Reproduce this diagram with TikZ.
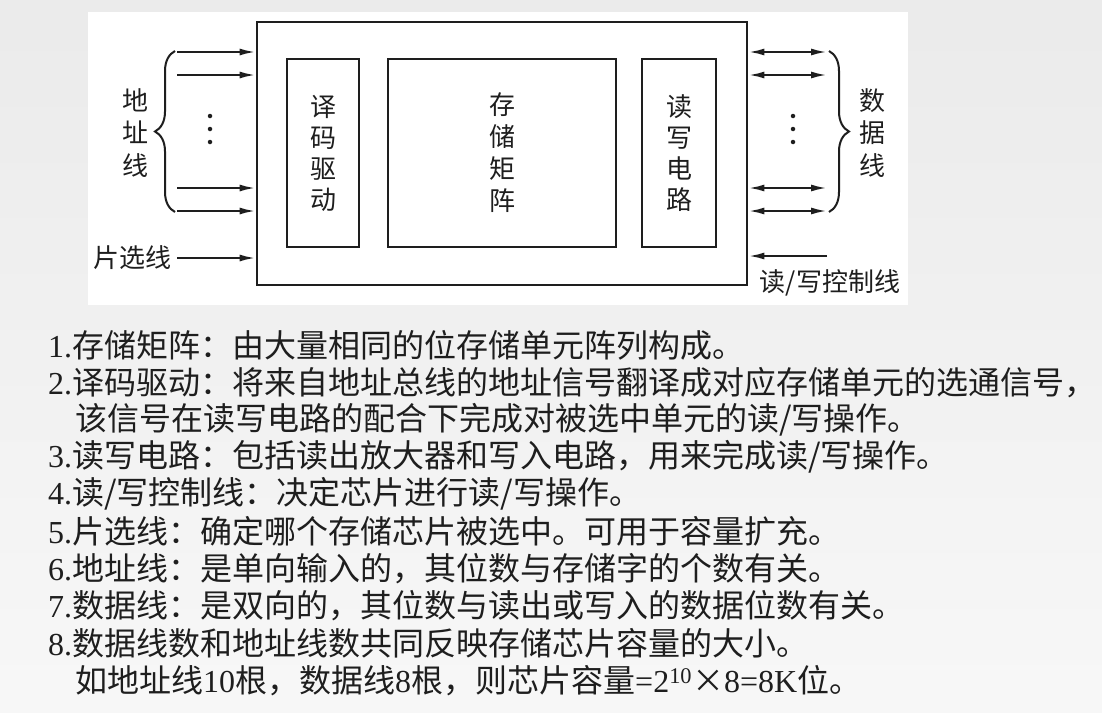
\documentclass[tikz,border=0pt]{standalone}
\usepackage{fontspec}
\setmainfont{Liberation Serif}
\newfontfamily\cjk{Noto Sans CJK SC}
\usetikzlibrary{arrows.meta,decorations.pathreplacing}
\definecolor{ink}{HTML}{1E1E1E}
\begin{document}
\begin{tikzpicture}[x=1pt,y=-1pt,
  boxstyle/.style={draw=ink,line width=2.8pt,inner sep=0pt,align=center,text=ink},
  vlabel/.style={align=center,text=ink,inner sep=0pt,font=\cjk\fontsize{26}{32.5}\selectfont},
  hlabel/.style={text=ink,inner sep=0pt,font=\cjk\fontsize{26}{30}\selectfont},
  arr/.style={draw=ink,line width=2.2pt,-{Latex[length=16pt,width=7pt]}},
  darr/.style={draw=ink,line width=2.2pt,{Latex[length=16pt,width=7pt]}-{Latex[length=16pt,width=7pt]}},
  bracestyle/.style={draw=ink,line width=2pt,decorate,decoration={brace,amplitude=20pt}},
  item/.style={anchor=west,inner sep=0pt,text=ink,font=\fontsize{32}{37}\selectfont},
  dotstyle/.style={fill=ink,draw=none,circle,minimum size=4.5pt,inner sep=0pt}
]
\useasboundingbox (0,0) rectangle (1102,712);
\shade[top color=black!8,bottom color=black!3] (0,0) rectangle (1102,712);
\fill[white] (88,12) rectangle (908,305);

% boxes
\node[boxstyle,minimum width=490pt,minimum height=263pt] (chip) at (502,153.5) {};
\node[boxstyle,minimum width=72pt,minimum height=188pt,font=\cjk\fontsize{26}{31}\selectfont] (dec) at (323,153) {译\\码\\驱\\动};
\node[boxstyle,minimum width=228pt,minimum height=188pt,font=\cjk\fontsize{26}{32}\selectfont] (mat) at (502,153) {存\\储\\矩\\阵};
\node[boxstyle,minimum width=74pt,minimum height=188pt,font=\cjk\fontsize{26}{31}\selectfont] (rw) at (679,153) {读\\写\\电\\路};

% address lines
\coordinate (a1) at (177,52);
\coordinate (a2) at (177,75);
\coordinate (a3) at (177,188);
\coordinate (a4) at (177,211);
\coordinate (cs) at (177,258);
\foreach \c in {a1,a2,a3,a4,cs} \draw[arr] (\c) -- (\c -| chip.west);

% data lines
\coordinate (d1) at (827,52);
\coordinate (d2) at (827,75);
\coordinate (d3) at (827,188);
\coordinate (d4) at (827,211);
\coordinate (wc) at (827,256);
\foreach \c in {d1,d2,d3,d4} \draw[darr] (\c -| chip.east) -- (\c);
\draw[arr] (wc) -- (wc -| chip.east);

% dots
\foreach \y [count=\i] in {116,129,142} {
  \node[dotstyle] (ld\i) at (210,\y) {};
  \node[dotstyle] (rd\i) at (793,\y) {};
}

% braces
\coordinate (lbb) at (175,212);
\coordinate (lbt) at (175,51);
\coordinate (rbt) at (829,51);
\coordinate (rbb) at (829,212);
\draw[bracestyle] (lbb) -- (lbt);
\draw[bracestyle] (rbt) -- (rbb);

% labels
\node[vlabel] (addr) at (135,133) {地\\址\\线};
\node[vlabel] (data) at (872,133) {数\\据\\线};
\node[hlabel] (cslab) at (132,258) {片选线};
\node[hlabel] (wclab) at (830,283) {读/写控制线};

% explanation text
\node[item] (t1) at (48,345) {1.\cjk 存储矩阵：由大量相同的位存储单元阵列构成。};
\node[item] (t2) at (48,383) {2.\cjk 译码驱动：将来自地址总线的地址信号翻译成对应存储单元的选通信号，};
\node[item] (t2b) at (75,420) {\cjk 该信号在读写电路的配合下完成对被选中单元的读/写操作。};
\node[item] (t3) at (48,457) {3.\cjk 读写电路：包括读出放大器和写入电路，用来完成读/写操作。};
\node[item] (t4) at (48,494) {4.\cjk 读/写控制线：决定芯片进行读/写操作。};
\node[item] (t5) at (48,531) {5.\cjk 片选线：确定哪个存储芯片被选中。可用于容量扩充。};
\node[item] (t6) at (48,569) {6.\cjk 地址线：是单向输入的，其位数与存储字的个数有关。};
\node[item] (t7) at (48,606) {7.\cjk 数据线：是双向的，其位数与读出或写入的数据位数有关。};
\node[item] (t8) at (48,643) {8.\cjk 数据线数和地址线数共同反映存储芯片容量的大小。};
\node[item] (t8b) at (75,681) {{\cjk 如地址线}10{\cjk 根，数据线}8{\cjk 根，则芯片容量}=2\textsuperscript{10}{\cjk ×}8=8K{\cjk 位。}};
\end{tikzpicture}
\end{document}
